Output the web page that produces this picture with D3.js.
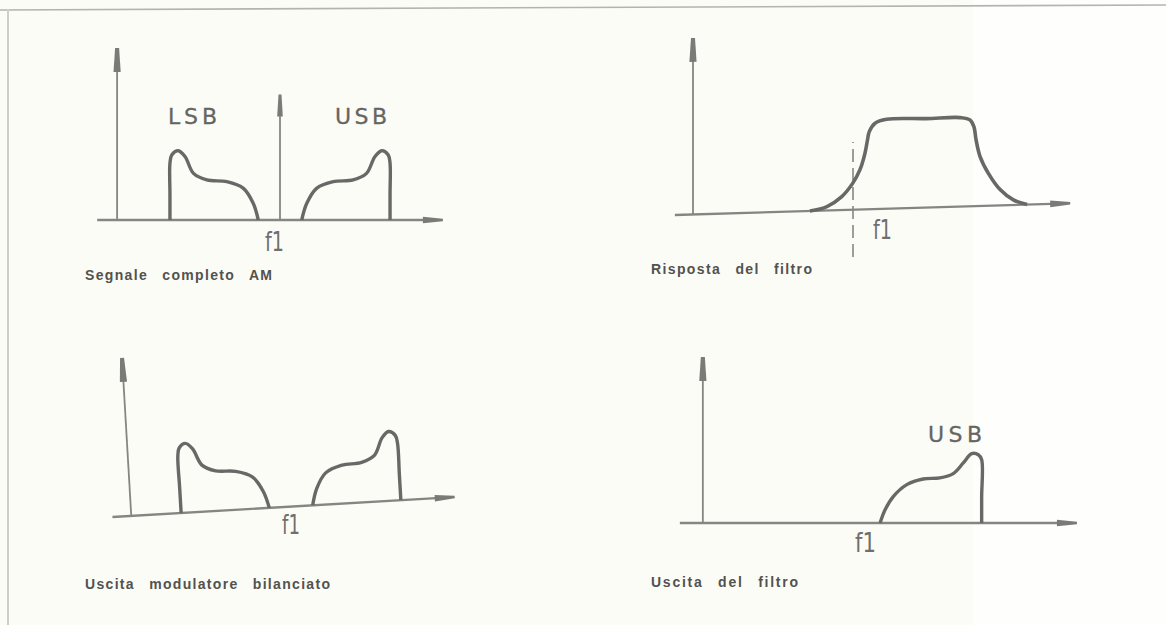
<!DOCTYPE html>
<html>
<head>
<meta charset="utf-8">
<script src="https://cdn.jsdelivr.net/npm/d3@7"></script>
<style>
  html, body { margin: 0; padding: 0; background: #fcfcf7; }
  svg { display: block; }
</style>
</head>
<body>
<svg id="chart" width="1166" height="625"></svg>
<script>
// sideband shape: offset from f1 (kHz) and relative amplitude
var sidebandFreq = [0.60, 0.74, 1.01, 1.47, 2.02, 2.39, 2.62, 2.81, 2.99, 3.04, 3.04, 3.04];
var sidebandAmp  = [0.00, 0.97, 1.84, 2.23, 2.33, 2.71, 3.68, 4.03, 3.78, 3.30, 1.50, 0.00];
var carrierAmp = 7.3;

// filter response (offset from f1 in kHz, amplitude)
var filterFreq = [-1.19, -0.72, -0.31, -0.01, 0.19, 0.33, 0.40, 0.45, 0.61, 0.93, 2.03, 2.96, 3.23, 3.34, 3.40, 3.51, 3.74, 4.07, 4.43, 4.81];
var filterAmp  = [0.00, 0.23, 0.78, 1.53, 2.30, 3.26, 4.03, 4.51, 4.99, 5.20, 5.17, 5.17, 5.02, 4.62, 3.84, 2.87, 1.88, 0.90, 0.29, 0.00];

// filter output, only the upper sideband is left
var usbOutFreq = [0.60, 0.72, 0.92, 1.24, 1.63, 2.03, 2.35, 2.59, 2.79, 2.95, 3.03, 3.03, 3.03];
var usbOutAmp  = [0.00, 0.77, 1.55, 2.23, 2.56, 2.62, 2.87, 3.49, 4.03, 3.97, 3.68, 1.50, 0.00];

var captions = ["Segnale completo AM", "Risposta del filtro", "Uscita modulatore bilanciato", "Uscita del filtro"];

var svg = d3.select("#chart");
var ink = "#686866", axisInk = "#858582";

// page background + frame
svg.append("rect").attr("width", 1166).attr("height", 625).attr("fill", "#fcfcf7");
svg.append("rect").attr("x", 973).attr("width", 193).attr("height", 625).attr("fill", "#fefefd");
svg.append("line").attr("x1", 0).attr("y1", 10).attr("x2", 1166).attr("y2", 5)
    .attr("stroke", "#b4b4ae").attr("stroke-width", 1.6);
svg.append("line").attr("x1", 8).attr("y1", 9).attr("x2", 8).attr("y2", 625)
    .attr("stroke", "#cfcfc8").attr("stroke-width", 2);

function zip(a, b) { return a.map(function (d, i) { return [d, b[i]]; }); }

// tapered arrow head, tip at (tx,ty), pointing along (dx,dy)
function arrowHead(g, tx, ty, dx, dy, len, wBase, wTip) {
    var px = -dy, py = dx;
    var bx = tx - dx * len, by = ty - dy * len;
    var pts = [[bx + px * wBase, by + py * wBase], [tx + px * wTip, ty + py * wTip],
               [tx - px * wTip, ty - py * wTip], [bx - px * wBase, by - py * wBase]];
    g.append("polygon").attr("points", pts.map(function (p) { return p.join(","); }).join(" "))
        .attr("fill", "#7a7a77");
}

var panels = [
    {ox: 280, oy: 220, rot: 0, skew: 0, kx: 36.2, ky: 17.2, axisAt: -4.5, axisTop: 10, base: [-5.05, 4.5],
     cap: [85, 280, 187]},
    {ox: 853, oy: 209.7, rot: 0, skew: -1.7, kx: 36.2, ky: 17.2, axisAt: -4.42, axisTop: 10.26, base: [-4.92, 6.0],
     cap: [651, 274, 161]},
    {ox: 291, oy: 506.6, rot: -3.34, skew: 0, kx: 36.2, ky: 17.2, axisAt: -4.42, axisTop: 9.2, base: [-4.94, 4.53],
     cap: [85, 589, 245]},
    {ox: 855, oy: 523, rot: 0, skew: 0, kx: 41.8, ky: 17.2, axisAt: -3.64, axisTop: 9.65, base: [-4.19, 5.31],
     cap: [651, 587, 147]}
];

panels.forEach(function (p, i) {
    var g = svg.append("g")
        .attr("transform", "translate(" + p.ox + "," + p.oy + ") rotate(" + p.rot + ") skewY(" + p.skew + ")");
    var x = d3.scaleLinear().domain([0, 1]).range([0, p.kx]);
    var y = d3.scaleLinear().domain([0, 1]).range([0, -p.ky]);

    // frequency axis
    g.append("line").attr("x1", x(p.base[0])).attr("y1", y(0)).attr("x2", x(p.base[1]) - 10).attr("y2", y(0))
        .attr("stroke", axisInk).attr("stroke-width", 2.3);
    arrowHead(g, x(p.base[1]), y(0), 1, 0, 20, 3.3, 1.3);

    // amplitude axis
    g.append("line").attr("x1", x(p.axisAt)).attr("y1", y(0)).attr("x2", x(p.axisAt)).attr("y2", y(p.axisTop) + 10)
        .attr("stroke", axisInk).attr("stroke-width", 1.8);
    arrowHead(g, x(p.axisAt), y(p.axisTop), 0, -1, 24, 3.6, 2);

    var line = d3.line().x(function (d) { return x(d[0]); }).y(function (d) { return y(d[1]); })
        .curve(d3.curveCatmullRom.alpha(0.5));
    var usb = zip(sidebandFreq, sidebandAmp);
    var lsb = zip(sidebandFreq.map(function (f) { return -f; }), sidebandAmp);

    if (i === 0 || i === 2) {
        [lsb, usb].forEach(function (s) {
            g.append("path").attr("d", line(s)).attr("fill", "none")
                .attr("stroke", ink).attr("stroke-width", 3.4).attr("stroke-linejoin", "round");
        });
    }
    if (i === 0) {
        g.append("line").attr("x1", x(0)).attr("y1", y(0)).attr("x2", x(0)).attr("y2", y(carrierAmp) + 10)
            .attr("stroke", axisInk).attr("stroke-width", 1.8);
        arrowHead(g, x(0), y(carrierAmp), 0, -1, 22, 2.8, 1.5);
    }
    if (i === 1) {
        g.append("line").attr("x1", x(0)).attr("y1", y(-2.75)).attr("x2", x(0)).attr("y2", y(3.94))
            .attr("stroke", axisInk).attr("stroke-width", 1.6).attr("stroke-dasharray", "13,6");
        g.append("path").attr("d", line(zip(filterFreq, filterAmp))).attr("fill", "none")
            .attr("stroke", ink).attr("stroke-width", 3.6).attr("stroke-linejoin", "round");
    }
    if (i === 3) {
        g.append("path").attr("d", line(zip(usbOutFreq, usbOutAmp))).attr("fill", "none")
            .attr("stroke", ink).attr("stroke-width", 3.4).attr("stroke-linejoin", "round");
    }

    svg.append("text").attr("x", p.cap[0]).attr("y", p.cap[1])
        .attr("textLength", p.cap[2]).attr("lengthAdjust", "spacing")
        .style("font-family", "'Liberation Sans', Arial, sans-serif").style("font-weight", "bold")
        .style("font-size", "14px").style("word-spacing", "9px").attr("fill", "#52524f")
        .text(captions[i]);
});

// band labels
var bandLabels = [
    {t: "LSB", x: 168, y: 124, w: 49},
    {t: "USB", x: 335, y: 124, w: 52},
    {t: "USB", x: 928, y: 442, w: 54}
];
svg.selectAll("text.band").data(bandLabels).enter().append("text").attr("class", "band")
    .attr("x", function (d) { return d.x; }).attr("y", function (d) { return d.y; })
    .attr("textLength", function (d) { return d.w; }).attr("lengthAdjust", "spacing")
    .style("font-family", "'DejaVu Sans', sans-serif").style("font-size", "22px")
    .attr("fill", "#656563").attr("stroke", "#656563").attr("stroke-width", 0.3)
    .text(function (d) { return d.t; });

// carrier labels
var f1Labels = [
    {x: 265, y: 251, w: 19},
    {x: 873, y: 239, w: 19},
    {x: 282, y: 534, w: 18},
    {x: 855, y: 552, w: 21}
];
svg.selectAll("text.f1").data(f1Labels).enter().append("text").attr("class", "f1")
    .attr("x", function (d) { return d.x; }).attr("y", function (d) { return d.y; })
    .attr("textLength", function (d) { return d.w; }).attr("lengthAdjust", "spacingAndGlyphs")
    .style("font-family", "'DejaVu Sans', sans-serif").style("font-size", "27px").attr("fill", "#6f6f6d")
    .text("f1");
</script>
</body>
</html>
